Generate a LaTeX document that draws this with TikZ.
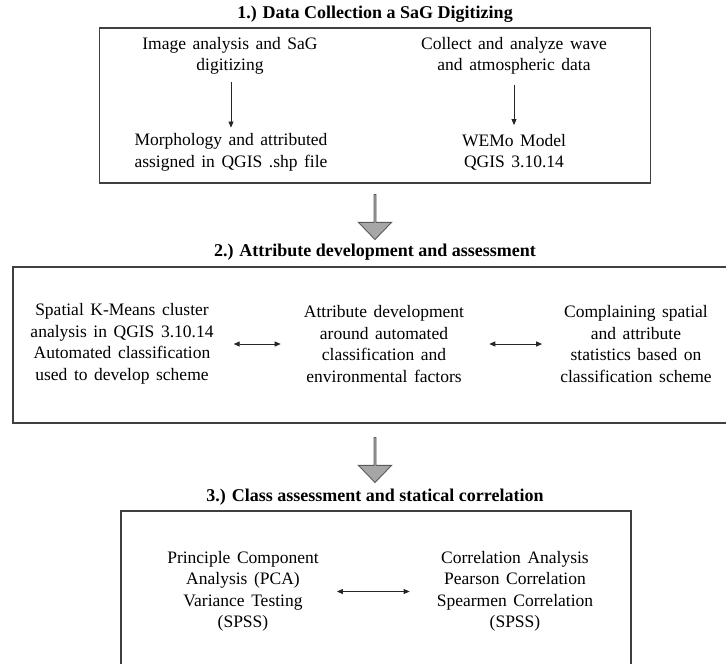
\documentclass[tikz,border=0pt]{standalone}
\usepackage{fontspec}
\setmainfont{Liberation Serif}
\newfontfamily\spacedserif[WordSpace=1.5]{Liberation Serif}
\usetikzlibrary{positioning,arrows.meta,shapes.arrows}

\definecolor{framegray}{HTML}{404040}
\definecolor{blockfill}{HTML}{A6A6A6}
\definecolor{blockline}{HTML}{5A5A5A}

\begin{document}
\begin{tikzpicture}[
		x=1pt, y=-1pt,
		frame/.style={draw=framegray, line width=1.4pt, inner sep=0pt},
		heading/.style={font=\fontsize{18}{21}\selectfont\bfseries, inner sep=0pt},
		body/.style={align=center, font=\fontsize{17.5}{21.5}\spacedserif, inner sep=2pt},
		link/.style={-{Triangle[length=6pt,width=5pt]}, line width=0.8pt, draw=black!85},
		duallink/.style={{Triangle[length=6pt,width=5pt]}-{Triangle[length=6pt,width=5pt]}, line width=0.8pt, draw=black!85},
		blockarrow/.style={single arrow, draw=blockline, fill=blockfill, line width=0.9pt,
			minimum height=45pt, minimum width=33pt, inner sep=0pt,
			single arrow head extend=7pt, single arrow tip angle=88, rotate=-90},
	]
		\useasboundingbox (0,0) rectangle (726,664);

		% step 1
		\node [heading] (title1) at (375,14) {1.) Data Collection a SaG Digitizing};
		\node [frame, minimum width=551pt, minimum height=155pt] (box1) at (375,105.5) {};
		\node [body] (image) at (230,56) {Image analysis and SaG\\digitizing};
		\node [body] (morph) at (231,152.5) {Morphology and attributed\\assigned in QGIS .shp file};
		\node [body] (wave) at (514,56) {Collect and analyze wave\\and atmospheric data};
		\node [body] (wemo) at (514,152.5) {WEMo Model\\QGIS 3.10.14};
		\draw [link, shorten <=5pt, shorten >=4pt] (image.south -| morph) -- (morph);
		\draw [link, shorten <=8pt, shorten >=7pt] (wave) -- (wemo);

		\node [blockarrow] (down1) at (375,216.5) {};

		% step 2
		\node [heading] (title2) at (375,252) {2.) Attribute development and assessment};
		\node [frame, minimum width=724pt, minimum height=156pt] (box2) at (375,345) {};
		\node [body] (kmeans) at (122,344) {Spatial K-Means cluster\\analysis in QGIS 3.10.14\\Automated classification\\used to develop scheme};
		\node [body] (attrib) at (384,344) {Attribute development\\around automated\\classification and\\environmental factors};
		\node [body] (stats) at (636,344) {Complaining spatial\\and attribute\\statistics based on\\classification scheme};
		\draw [duallink, shorten <=18pt, shorten >=21pt] (kmeans) -- (attrib);
		\draw [duallink, shorten <=23pt, shorten >=16pt] (attrib) -- (stats);

		\node [blockarrow] (down2) at (375,459.5) {};

		% step 3
		\node [heading] (title3) at (375,497) {3.) Class assessment and statical correlation};
		\node [frame, minimum width=510pt, minimum height=169pt] (box3) at (376,595.5) {};
		\node [body] (pca) at (243,591.5) {Principle Component\\Analysis (PCA)\\Variance Testing\\(SPSS)};
		\node [body] (corr) at (515,591.5) {Correlation Analysis\\Pearson Correlation\\Spearmen Correlation\\(SPSS)};
		\draw [duallink, shorten <=16pt, shorten >=25pt] (pca) -- (corr);
	\end{tikzpicture}
\end{document}
